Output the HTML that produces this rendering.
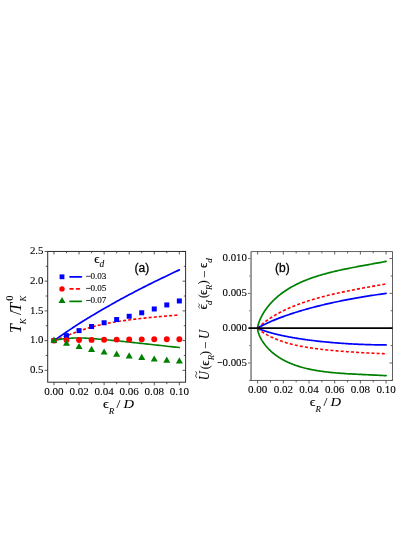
<!DOCTYPE html>
<html><head><meta charset="utf-8"><title>figure</title>
<style>html,body{margin:0;padding:0;background:#fff;}body{width:415px;height:537px;overflow:hidden;font-family:"Liberation Serif",serif;}svg{display:block;position:absolute;left:0;top:0}</style>
</head><body>
<svg width="415" height="537" viewBox="0 0 415 537">
<defs><filter id="soft" x="0" y="0" width="415" height="537" filterUnits="userSpaceOnUse" color-interpolation-filters="sRGB"><feGaussianBlur stdDeviation="0.36"/></filter></defs>
<rect width="415" height="537" fill="#fff"/>
<g filter="url(#soft)">
<rect width="415" height="537" fill="#fff"/>
<polyline points="53.97,340.60 53.98,340.59 54.00,340.57 54.05,340.54 54.11,340.50 54.19,340.44 54.29,340.37 54.40,340.29 54.53,340.20 54.69,340.10 54.85,339.98 55.04,339.85 55.24,339.71 55.46,339.55 55.70,339.39 55.96,339.21 56.23,339.02 56.53,338.81 56.84,338.60 57.16,338.37 57.51,338.13 57.87,337.88 58.25,337.62 58.65,337.34 59.07,337.06 59.50,336.76 59.95,336.45 60.42,336.12 60.91,335.79 61.41,335.44 61.94,335.09 62.48,334.72 63.03,334.34 63.61,333.94 64.20,333.54 64.81,333.13 65.44,332.70 66.09,332.26 66.75,331.81 67.43,331.35 68.13,330.88 68.85,330.40 69.58,329.90 70.34,329.40 71.11,328.88 71.89,328.35 72.70,327.81 73.52,327.26 74.36,326.71 75.22,326.14 76.10,325.56 76.99,324.98 77.91,324.39 78.84,323.79 79.78,323.19 80.75,322.58 81.73,321.96 82.73,321.33 83.75,320.70 84.78,320.06 85.84,319.41 86.91,318.75 88.00,318.09 89.10,317.42 90.23,316.74 91.37,316.06 92.53,315.36 93.71,314.67 94.90,313.96 96.12,313.25 97.35,312.53 98.59,311.81 99.86,311.07 101.14,310.33 102.45,309.58 103.76,308.82 105.10,308.05 106.46,307.27 107.83,306.49 109.22,305.69 110.63,304.88 112.05,304.07 113.49,303.26 114.95,302.44 116.43,301.61 117.93,300.78 119.44,299.95 120.97,299.12 122.52,298.28 124.09,297.44 125.68,296.59 127.28,295.73 128.90,294.87 130.54,294.00 132.19,293.13 133.86,292.25 135.56,291.37 137.26,290.48 138.99,289.58 140.73,288.69 142.50,287.78 144.27,286.88 146.07,285.97 147.89,285.05 149.72,284.13 151.57,283.21 153.44,282.28 155.32,281.36 157.23,280.43 159.15,279.49 161.09,278.56 163.04,277.62 165.02,276.67 167.01,275.71 169.02,274.75 171.05,273.79 173.09,272.82 175.15,271.84 177.23,270.86 179.33,269.87" fill="none" stroke="#0000ff" stroke-width="1.7" stroke-linejoin="round" stroke-linecap="round"/>
<polyline points="53.97,340.60 53.98,340.59 54.00,340.58 54.05,340.57 54.11,340.54 54.19,340.51 54.29,340.48 54.40,340.43 54.53,340.38 54.69,340.33 54.85,340.26 55.04,340.19 55.24,340.11 55.46,340.03 55.70,339.94 55.96,339.84 56.23,339.74 56.53,339.63 56.84,339.51 57.16,339.39 57.51,339.25 57.87,339.12 58.25,338.97 58.65,338.82 59.07,338.66 59.50,338.50 59.95,338.33 60.42,338.15 60.91,337.97 61.41,337.77 61.94,337.58 62.48,337.37 63.03,337.16 63.61,336.94 64.20,336.72 64.81,336.48 65.44,336.25 66.09,336.00 66.75,335.75 67.43,335.49 68.13,335.22 68.85,334.94 69.58,334.66 70.34,334.36 71.11,334.06 71.89,333.76 72.70,333.45 73.52,333.13 74.36,332.81 75.22,332.48 76.10,332.15 76.99,331.82 77.91,331.49 78.84,331.16 79.78,330.83 80.75,330.50 81.73,330.16 82.73,329.82 83.75,329.47 84.78,329.13 85.84,328.78 86.91,328.44 88.00,328.10 89.10,327.76 90.23,327.43 91.37,327.10 92.53,326.79 93.71,326.47 94.90,326.16 96.12,325.85 97.35,325.55 98.59,325.25 99.86,324.95 101.14,324.66 102.45,324.37 103.76,324.09 105.10,323.81 106.46,323.54 107.83,323.27 109.22,323.00 110.63,322.74 112.05,322.48 113.49,322.22 114.95,321.98 116.43,321.73 117.93,321.50 119.44,321.26 120.97,321.04 122.52,320.82 124.09,320.60 125.68,320.38 127.28,320.17 128.90,319.95 130.54,319.74 132.19,319.52 133.86,319.31 135.56,319.10 137.26,318.89 138.99,318.68 140.73,318.48 142.50,318.29 144.27,318.10 146.07,317.91 147.89,317.73 149.72,317.55 151.57,317.38 153.44,317.20 155.32,317.02 157.23,316.84 159.15,316.67 161.09,316.49 163.04,316.32 165.02,316.15 167.01,315.97 169.02,315.81 171.05,315.64 173.09,315.47 175.15,315.31 177.23,315.14 179.33,314.98" fill="none" stroke="#ff0000" stroke-width="1.6" stroke-dasharray="3.05 2.1" stroke-linejoin="round" stroke-linecap="butt"/>
<polyline points="53.97,340.60 53.98,340.60 54.00,340.59 54.05,340.58 54.11,340.57 54.19,340.55 54.29,340.53 54.40,340.50 54.53,340.47 54.69,340.44 54.85,340.40 55.04,340.36 55.24,340.31 55.46,340.27 55.70,340.21 55.96,340.16 56.23,340.10 56.53,340.04 56.84,339.97 57.16,339.91 57.51,339.84 57.87,339.76 58.25,339.69 58.65,339.61 59.07,339.53 59.50,339.45 59.95,339.37 60.42,339.29 60.91,339.21 61.41,339.12 61.94,339.04 62.48,338.96 63.03,338.89 63.61,338.81 64.20,338.74 64.81,338.67 65.44,338.61 66.09,338.55 66.75,338.50 67.43,338.45 68.13,338.40 68.85,338.35 69.58,338.30 70.34,338.25 71.11,338.20 71.89,338.15 72.70,338.11 73.52,338.07 74.36,338.03 75.22,338.00 76.10,337.97 76.99,337.95 77.91,337.93 78.84,337.92 79.78,337.93 80.75,337.94 81.73,337.97 82.73,338.00 83.75,338.04 84.78,338.10 85.84,338.16 86.91,338.22 88.00,338.29 89.10,338.36 90.23,338.43 91.37,338.50 92.53,338.58 93.71,338.66 94.90,338.75 96.12,338.86 97.35,338.96 98.59,339.08 99.86,339.19 101.14,339.31 102.45,339.43 103.76,339.56 105.10,339.68 106.46,339.80 107.83,339.93 109.22,340.06 110.63,340.19 112.05,340.33 113.49,340.47 114.95,340.61 116.43,340.75 117.93,340.90 119.44,341.06 120.97,341.22 122.52,341.38 124.09,341.54 125.68,341.71 127.28,341.88 128.90,342.05 130.54,342.23 132.19,342.41 133.86,342.59 135.56,342.77 137.26,342.96 138.99,343.15 140.73,343.34 142.50,343.53 144.27,343.73 146.07,343.92 147.89,344.12 149.72,344.32 151.57,344.52 153.44,344.73 155.32,344.93 157.23,345.14 159.15,345.35 161.09,345.56 163.04,345.78 165.02,345.99 167.01,346.21 169.02,346.43 171.05,346.65 173.09,346.87 175.15,347.10 177.23,347.32 179.33,347.55" fill="none" stroke="#008000" stroke-width="1.6" stroke-linejoin="round" stroke-linecap="round"/>
<rect x="51.47" y="338.10" width="5.0" height="5.0" fill="#0000ff"/>
<rect x="64.00" y="333.16" width="5.0" height="5.0" fill="#0000ff"/>
<rect x="76.54" y="328.11" width="5.0" height="5.0" fill="#0000ff"/>
<rect x="89.08" y="324.01" width="5.0" height="5.0" fill="#0000ff"/>
<rect x="101.61" y="320.27" width="5.0" height="5.0" fill="#0000ff"/>
<rect x="114.15" y="317.06" width="5.0" height="5.0" fill="#0000ff"/>
<rect x="126.69" y="313.79" width="5.0" height="5.0" fill="#0000ff"/>
<rect x="139.22" y="310.28" width="5.0" height="5.0" fill="#0000ff"/>
<rect x="151.76" y="306.48" width="5.0" height="5.0" fill="#0000ff"/>
<rect x="164.30" y="302.44" width="5.0" height="5.0" fill="#0000ff"/>
<rect x="176.83" y="298.46" width="5.0" height="5.0" fill="#0000ff"/>
<circle cx="53.97" cy="340.60" r="2.95" fill="#ff0000"/>
<circle cx="66.50" cy="340.12" r="2.95" fill="#ff0000"/>
<circle cx="79.04" cy="340.00" r="2.95" fill="#ff0000"/>
<circle cx="91.58" cy="339.88" r="2.95" fill="#ff0000"/>
<circle cx="104.11" cy="339.77" r="2.95" fill="#ff0000"/>
<circle cx="116.65" cy="339.59" r="2.95" fill="#ff0000"/>
<circle cx="129.19" cy="339.41" r="2.95" fill="#ff0000"/>
<circle cx="141.72" cy="339.35" r="2.95" fill="#ff0000"/>
<circle cx="154.26" cy="339.29" r="2.95" fill="#ff0000"/>
<circle cx="166.80" cy="339.29" r="2.95" fill="#ff0000"/>
<circle cx="179.33" cy="339.29" r="2.95" fill="#ff0000"/>
<path d="M53.97 336.51L57.47 342.71L50.47 342.71Z" fill="#008000"/>
<path d="M66.50 339.66L70.00 345.86L63.00 345.86Z" fill="#008000"/>
<path d="M79.04 342.92L82.54 349.12L75.54 349.12Z" fill="#008000"/>
<path d="M91.58 345.72L95.08 351.92L88.08 351.92Z" fill="#008000"/>
<path d="M104.11 348.39L107.61 354.59L100.61 354.59Z" fill="#008000"/>
<path d="M116.65 350.47L120.15 356.67L113.15 356.67Z" fill="#008000"/>
<path d="M129.19 352.37L132.69 358.57L125.69 358.57Z" fill="#008000"/>
<path d="M141.72 353.86L145.22 360.06L138.22 360.06Z" fill="#008000"/>
<path d="M154.26 355.41L157.76 361.61L150.76 361.61Z" fill="#008000"/>
<path d="M166.80 356.47L170.30 362.67L163.30 362.67Z" fill="#008000"/>
<path d="M179.33 357.31L182.83 363.51L175.83 363.51Z" fill="#008000"/>
<rect x="47.70" y="251.45" width="137.90" height="130.75" fill="none" stroke="#2c2c2c" stroke-width="1.0"/>
<path d="M53.97 382.20v3.1M53.97 251.45v3.0M79.04 382.20v3.1M79.04 251.45v3.0M104.11 382.20v3.1M104.11 251.45v3.0M129.19 382.20v3.1M129.19 251.45v3.0M154.26 382.20v3.1M154.26 251.45v3.0M179.33 382.20v3.1M179.33 251.45v3.0M66.50 382.20v2.0M66.50 251.45v1.8M91.58 382.20v2.0M91.58 251.45v1.8M116.65 382.20v2.0M116.65 251.45v1.8M141.72 382.20v2.0M141.72 251.45v1.8M166.80 382.20v2.0M166.80 251.45v1.8M47.70 370.31h-3.1M185.60 370.31h-3.0M47.70 340.60h-3.1M185.60 340.60h-3.0M47.70 310.88h-3.1M185.60 310.88h-3.0M47.70 281.17h-3.1M185.60 281.17h-3.0M47.70 251.45h-3.1M185.60 251.45h-3.0M47.70 355.46h-2.0M185.60 355.46h-1.8M47.70 325.74h-2.0M185.60 325.74h-1.8M47.70 296.02h-2.0M185.60 296.02h-1.8M47.70 266.31h-2.0M185.60 266.31h-1.8" stroke="#2c2c2c" stroke-width="0.8" fill="none"/>
<text transform="translate(53.97,395.40) scale(0.97,1)" text-anchor="middle" font-family="Liberation Serif, serif" font-size="11.4" fill="#000" stroke="#000" stroke-width="0.1">0.00</text>
<text transform="translate(79.04,395.40) scale(0.97,1)" text-anchor="middle" font-family="Liberation Serif, serif" font-size="11.4" fill="#000" stroke="#000" stroke-width="0.1">0.02</text>
<text transform="translate(104.11,395.40) scale(0.97,1)" text-anchor="middle" font-family="Liberation Serif, serif" font-size="11.4" fill="#000" stroke="#000" stroke-width="0.1">0.04</text>
<text transform="translate(129.19,395.40) scale(0.97,1)" text-anchor="middle" font-family="Liberation Serif, serif" font-size="11.4" fill="#000" stroke="#000" stroke-width="0.1">0.06</text>
<text transform="translate(154.26,395.40) scale(0.97,1)" text-anchor="middle" font-family="Liberation Serif, serif" font-size="11.4" fill="#000" stroke="#000" stroke-width="0.1">0.08</text>
<text transform="translate(179.33,395.40) scale(0.97,1)" text-anchor="middle" font-family="Liberation Serif, serif" font-size="11.4" fill="#000" stroke="#000" stroke-width="0.1">0.10</text>
<text transform="translate(43.50,373.01) scale(0.96,1)" text-anchor="end" font-family="Liberation Serif, serif" font-size="11.3" fill="#000" stroke="#000" stroke-width="0.1">0.5</text>
<text transform="translate(43.50,343.30) scale(0.96,1)" text-anchor="end" font-family="Liberation Serif, serif" font-size="11.3" fill="#000" stroke="#000" stroke-width="0.1">1.0</text>
<text transform="translate(43.50,313.58) scale(0.96,1)" text-anchor="end" font-family="Liberation Serif, serif" font-size="11.3" fill="#000" stroke="#000" stroke-width="0.1">1.5</text>
<text transform="translate(43.50,283.87) scale(0.96,1)" text-anchor="end" font-family="Liberation Serif, serif" font-size="11.3" fill="#000" stroke="#000" stroke-width="0.1">2.0</text>
<text transform="translate(43.50,254.15) scale(0.96,1)" text-anchor="end" font-family="Liberation Serif, serif" font-size="11.3" fill="#000" stroke="#000" stroke-width="0.1">2.5</text>
<text x="94.3" y="263.3" font-family="Liberation Serif, serif" font-size="13" fill="#000" stroke="#000" stroke-width="0.2">ϵ<tspan font-style="italic" font-size="9.5" dy="3.2" stroke-width="0.05">d</tspan></text>
<rect x="59.6" y="274.40000000000003" width="4.8" height="4.8" fill="#0000ff"/>
<circle cx="62" cy="288.9" r="2.7" fill="#ff0000"/>
<path d="M62.00 296.91L65.50 303.11L58.50 303.11Z" fill="#008000"/>
<path d="M70.0 276.8H81.4" stroke="#0000ff" stroke-width="1.7" stroke-linecap="round"/>
<path d="M70.1 288.9H80" stroke="#ff0000" stroke-width="1.6" stroke-dasharray="2.9 3.5" stroke-linecap="round"/>
<path d="M70.0 301.3H81.4" stroke="#008000" stroke-width="1.7" stroke-linecap="round"/>
<path d="M86.1 276.30H90.6" stroke="#000" stroke-width="0.75"/>
<text x="90.5" y="279.00" font-family="Liberation Serif, serif" font-size="9.1" fill="#000" stroke="#000" stroke-width="0.1">0.03</text>
<path d="M86.1 288.40H90.6" stroke="#000" stroke-width="0.75"/>
<text x="90.5" y="291.10" font-family="Liberation Serif, serif" font-size="9.1" fill="#000" stroke="#000" stroke-width="0.1">0.05</text>
<path d="M86.1 300.50H90.6" stroke="#000" stroke-width="0.75"/>
<text x="90.5" y="303.20" font-family="Liberation Serif, serif" font-size="9.1" fill="#000" stroke="#000" stroke-width="0.1">0.07</text>
<text x="134.6" y="272.1" font-family="Liberation Sans, sans-serif" font-size="12" fill="#000" stroke="#000" stroke-width="0.3">(a)</text>
<text transform="translate(103.00,408.00) scale(1.06,1)" font-family="Liberation Serif, serif" font-size="13.2" fill="#000" stroke="#000" stroke-width="0.16">ϵ</text>
<text transform="translate(108.70,413.80) scale(1.05,1)" font-family="Liberation Serif, serif" font-size="8.6" font-style="italic" fill="#000" stroke="#000" stroke-width="0.04">R</text>
<text transform="translate(116.60,408.00) scale(1.05,1)" font-family="Liberation Serif, serif" font-size="13.4" fill="#000" stroke="#000" stroke-width="0.04">/</text>
<text transform="translate(123.60,408.00) scale(1.16,1)" font-family="Liberation Serif, serif" font-size="12.6" font-style="italic" fill="#000" stroke="#000" stroke-width="0.04">D</text>
<g transform="translate(21.00,331.90) rotate(-90)"><text transform="translate(-1.00,0.00) scale(1,1.05)" font-family="Liberation Serif, serif" font-size="16" font-style="italic" fill="#000" stroke="#000" stroke-width="0.04">T</text><text x="7.75" y="5.20" font-family="Liberation Serif, serif" font-size="8.6" font-style="italic" fill="#000" stroke="#000" stroke-width="0.04">K</text><text x="17.00" y="0.00" font-family="Liberation Serif, serif" font-size="16" fill="#000" stroke="#000" stroke-width="0.04">/</text><text transform="translate(20.20,0.00) scale(1,1.05)" font-family="Liberation Serif, serif" font-size="16" font-style="italic" fill="#000" stroke="#000" stroke-width="0.04">T</text><text x="30.30" y="5.20" font-family="Liberation Serif, serif" font-size="8.6" font-style="italic" fill="#000" stroke="#000" stroke-width="0.04">K</text><text x="31.40" y="-8.25" font-family="Liberation Serif, serif" font-size="9.5" fill="#000" stroke="#000" stroke-width="0.04">0</text></g>
<polyline points="257.62,328.18 257.63,328.06 257.64,327.87 257.67,327.63 257.70,327.35 257.75,327.05 257.81,326.72 257.87,326.37 257.95,326.00 258.03,325.61 258.13,325.21 258.24,324.79 258.35,324.36 258.48,323.92 258.62,323.47 258.77,323.00 258.92,322.53 259.09,322.05 259.27,321.55 259.46,321.06 259.66,320.55 259.86,320.03 260.08,319.51 260.31,318.99 260.55,318.45 260.80,317.92 261.06,317.38 261.33,316.83 261.61,316.28 261.90,315.72 262.20,315.17 262.51,314.61 262.83,314.04 263.16,313.48 263.50,312.91 263.85,312.34 264.21,311.77 264.58,311.19 264.96,310.62 265.35,310.04 265.75,309.47 266.16,308.89 266.59,308.31 267.02,307.74 267.46,307.16 267.91,306.58 268.37,306.01 268.85,305.43 269.33,304.86 269.82,304.29 270.33,303.71 270.84,303.14 271.36,302.57 271.90,302.01 272.44,301.44 272.99,300.88 273.56,300.32 274.13,299.76 274.72,299.20 275.31,298.65 275.91,298.10 276.53,297.55 277.15,297.00 277.79,296.46 278.43,295.92 279.09,295.38 279.76,294.85 280.43,294.32 281.12,293.79 281.81,293.27 282.52,292.75 283.24,292.24 283.96,291.72 284.70,291.22 285.45,290.71 286.20,290.21 286.97,289.72 287.75,289.23 288.54,288.74 289.33,288.26 290.14,287.78 290.96,287.31 291.79,286.84 292.63,286.37 293.47,285.91 294.33,285.46 295.20,285.00 296.08,284.56 296.97,284.12 297.87,283.68 298.78,283.24 299.70,282.82 300.63,282.39 301.57,281.97 302.52,281.56 303.48,281.15 304.45,280.74 305.43,280.34 306.42,279.95 307.42,279.56 308.43,279.17 309.45,278.79 310.49,278.41 311.53,278.03 312.58,277.67 313.64,277.30 314.71,276.94 315.80,276.59 316.89,276.23 317.99,275.89 319.10,275.54 320.23,275.20 321.36,274.87 322.50,274.54 323.66,274.21 324.82,273.88 325.99,273.56 327.18,273.25 328.37,272.94 329.58,272.63 330.79,272.32 332.01,272.02 333.25,271.72 334.49,271.42 335.75,271.12 337.01,270.83 338.29,270.54 339.58,270.26 340.87,269.97 342.18,269.69 343.49,269.41 344.82,269.13 346.16,268.86 347.50,268.58 348.86,268.31 350.23,268.04 351.60,267.77 352.99,267.50 354.39,267.23 355.79,266.96 357.21,266.69 358.64,266.42 360.08,266.16 361.53,265.89 362.98,265.62 364.45,265.35 365.93,265.08 367.42,264.81 368.92,264.54 370.43,264.27 371.95,263.99 373.48,263.71 375.02,263.43 376.57,263.15 378.13,262.87 379.70,262.58 381.28,262.29 382.87,262.00 384.47,261.70 386.08,261.40" fill="none" stroke="#008000" stroke-width="1.7" stroke-linejoin="round" stroke-linecap="round"/>
<polyline points="257.62,328.18 257.63,328.19 257.64,328.19 257.67,328.17 257.70,328.14 257.75,328.10 257.81,328.05 257.87,327.99 257.95,327.92 258.03,327.83 258.13,327.74 258.24,327.64 258.35,327.52 258.48,327.40 258.62,327.27 258.77,327.13 258.92,326.98 259.09,326.82 259.27,326.65 259.46,326.48 259.66,326.29 259.86,326.10 260.08,325.90 260.31,325.70 260.55,325.49 260.80,325.27 261.06,325.04 261.33,324.81 261.61,324.57 261.90,324.32 262.20,324.07 262.51,323.82 262.83,323.55 263.16,323.29 263.50,323.01 263.85,322.74 264.21,322.45 264.58,322.17 264.96,321.88 265.35,321.58 265.75,321.28 266.16,320.98 266.59,320.67 267.02,320.36 267.46,320.04 267.91,319.73 268.37,319.41 268.85,319.08 269.33,318.76 269.82,318.43 270.33,318.10 270.84,317.76 271.36,317.43 271.90,317.09 272.44,316.75 272.99,316.41 273.56,316.07 274.13,315.72 274.72,315.37 275.31,315.03 275.91,314.68 276.53,314.33 277.15,313.98 277.79,313.63 278.43,313.27 279.09,312.92 279.76,312.57 280.43,312.22 281.12,311.86 281.81,311.51 282.52,311.15 283.24,310.80 283.96,310.44 284.70,310.09 285.45,309.74 286.20,309.38 286.97,309.03 287.75,308.68 288.54,308.33 289.33,307.98 290.14,307.63 290.96,307.28 291.79,306.93 292.63,306.58 293.47,306.23 294.33,305.89 295.20,305.54 296.08,305.20 296.97,304.86 297.87,304.52 298.78,304.18 299.70,303.84 300.63,303.50 301.57,303.16 302.52,302.83 303.48,302.50 304.45,302.17 305.43,301.84 306.42,301.51 307.42,301.18 308.43,300.86 309.45,300.53 310.49,300.21 311.53,299.89 312.58,299.57 313.64,299.26 314.71,298.94 315.80,298.63 316.89,298.32 317.99,298.01 319.10,297.70 320.23,297.39 321.36,297.09 322.50,296.79 323.66,296.49 324.82,296.19 325.99,295.89 327.18,295.59 328.37,295.30 329.58,295.00 330.79,294.71 332.01,294.42 333.25,294.13 334.49,293.84 335.75,293.56 337.01,293.27 338.29,292.99 339.58,292.71 340.87,292.42 342.18,292.14 343.49,291.87 344.82,291.59 346.16,291.31 347.50,291.03 348.86,290.76 350.23,290.48 351.60,290.21 352.99,289.94 354.39,289.66 355.79,289.39 357.21,289.12 358.64,288.85 360.08,288.58 361.53,288.31 362.98,288.04 364.45,287.76 365.93,287.49 367.42,287.22 368.92,286.95 370.43,286.68 371.95,286.41 373.48,286.13 375.02,285.86 376.57,285.58 378.13,285.31 379.70,285.03 381.28,284.75 382.87,284.47 384.47,284.19 386.08,283.91" fill="none" stroke="#ff0000" stroke-width="1.6" stroke-dasharray="3.05 2.1" stroke-linejoin="round" stroke-linecap="butt"/>
<polyline points="257.62,328.18 257.63,328.18 257.64,328.17 257.67,328.15 257.70,328.13 257.75,328.10 257.81,328.06 257.87,328.02 257.95,327.97 258.03,327.92 258.13,327.86 258.24,327.79 258.35,327.72 258.48,327.65 258.62,327.57 258.77,327.48 258.92,327.39 259.09,327.29 259.27,327.19 259.46,327.08 259.66,326.97 259.86,326.86 260.08,326.74 260.31,326.61 260.55,326.48 260.80,326.35 261.06,326.21 261.33,326.06 261.61,325.92 261.90,325.76 262.20,325.61 262.51,325.45 262.83,325.29 263.16,325.12 263.50,324.95 263.85,324.77 264.21,324.59 264.58,324.41 264.96,324.23 265.35,324.04 265.75,323.85 266.16,323.65 266.59,323.45 267.02,323.25 267.46,323.05 267.91,322.84 268.37,322.63 268.85,322.41 269.33,322.20 269.82,321.98 270.33,321.76 270.84,321.53 271.36,321.30 271.90,321.07 272.44,320.84 272.99,320.61 273.56,320.37 274.13,320.13 274.72,319.89 275.31,319.65 275.91,319.41 276.53,319.16 277.15,318.91 277.79,318.66 278.43,318.41 279.09,318.15 279.76,317.90 280.43,317.64 281.12,317.38 281.81,317.12 282.52,316.86 283.24,316.60 283.96,316.33 284.70,316.07 285.45,315.80 286.20,315.53 286.97,315.27 287.75,315.00 288.54,314.72 289.33,314.45 290.14,314.18 290.96,313.91 291.79,313.63 292.63,313.36 293.47,313.08 294.33,312.80 295.20,312.53 296.08,312.25 296.97,311.97 297.87,311.69 298.78,311.41 299.70,311.13 300.63,310.86 301.57,310.58 302.52,310.30 303.48,310.02 304.45,309.74 305.43,309.45 306.42,309.17 307.42,308.89 308.43,308.61 309.45,308.33 310.49,308.05 311.53,307.77 312.58,307.49 313.64,307.21 314.71,306.94 315.80,306.66 316.89,306.38 317.99,306.10 319.10,305.82 320.23,305.55 321.36,305.27 322.50,304.99 323.66,304.72 324.82,304.44 325.99,304.17 327.18,303.89 328.37,303.62 329.58,303.35 330.79,303.08 332.01,302.81 333.25,302.54 334.49,302.27 335.75,302.00 337.01,301.74 338.29,301.47 339.58,301.21 340.87,300.94 342.18,300.68 343.49,300.42 344.82,300.16 346.16,299.90 347.50,299.64 348.86,299.38 350.23,299.13 351.60,298.87 352.99,298.62 354.39,298.37 355.79,298.12 357.21,297.87 358.64,297.62 360.08,297.37 361.53,297.13 362.98,296.89 364.45,296.64 365.93,296.40 367.42,296.16 368.92,295.93 370.43,295.69 371.95,295.46 373.48,295.22 375.02,294.99 376.57,294.76 378.13,294.53 379.70,294.31 381.28,294.08 382.87,293.86 384.47,293.64 386.08,293.42" fill="none" stroke="#0000ff" stroke-width="1.7" stroke-linejoin="round" stroke-linecap="round"/>
<polyline points="257.62,328.18 257.63,328.19 257.64,328.20 257.67,328.22 257.70,328.24 257.75,328.26 257.81,328.29 257.87,328.33 257.95,328.37 258.03,328.41 258.13,328.46 258.24,328.51 258.35,328.57 258.48,328.62 258.62,328.69 258.77,328.75 258.92,328.82 259.09,328.89 259.27,328.97 259.46,329.05 259.66,329.13 259.86,329.21 260.08,329.30 260.31,329.39 260.55,329.48 260.80,329.58 261.06,329.68 261.33,329.78 261.61,329.88 261.90,329.99 262.20,330.09 262.51,330.21 262.83,330.32 263.16,330.43 263.50,330.55 263.85,330.67 264.21,330.79 264.58,330.91 264.96,331.04 265.35,331.16 265.75,331.29 266.16,331.42 266.59,331.55 267.02,331.68 267.46,331.82 267.91,331.95 268.37,332.09 268.85,332.23 269.33,332.37 269.82,332.51 270.33,332.65 270.84,332.79 271.36,332.94 271.90,333.08 272.44,333.22 272.99,333.37 273.56,333.52 274.13,333.67 274.72,333.81 275.31,333.96 275.91,334.11 276.53,334.26 277.15,334.41 277.79,334.56 278.43,334.71 279.09,334.86 279.76,335.02 280.43,335.17 281.12,335.32 281.81,335.47 282.52,335.62 283.24,335.77 283.96,335.93 284.70,336.08 285.45,336.23 286.20,336.38 286.97,336.53 287.75,336.68 288.54,336.83 289.33,336.98 290.14,337.13 290.96,337.28 291.79,337.43 292.63,337.58 293.47,337.73 294.33,337.87 295.20,338.02 296.08,338.17 296.97,338.31 297.87,338.46 298.78,338.60 299.70,338.75 300.63,338.89 301.57,339.03 302.52,339.17 303.48,339.31 304.45,339.45 305.43,339.59 306.42,339.72 307.42,339.86 308.43,340.00 309.45,340.13 310.49,340.26 311.53,340.39 312.58,340.53 313.64,340.66 314.71,340.78 315.80,340.91 316.89,341.04 317.99,341.16 319.10,341.28 320.23,341.41 321.36,341.53 322.50,341.65 323.66,341.77 324.82,341.88 325.99,342.00 327.18,342.11 328.37,342.22 329.58,342.33 330.79,342.44 332.01,342.55 333.25,342.65 334.49,342.76 335.75,342.86 337.01,342.96 338.29,343.06 339.58,343.16 340.87,343.25 342.18,343.34 343.49,343.43 344.82,343.52 346.16,343.61 347.50,343.69 348.86,343.78 350.23,343.86 351.60,343.93 352.99,344.01 354.39,344.08 355.79,344.15 357.21,344.22 358.64,344.29 360.08,344.35 361.53,344.41 362.98,344.46 364.45,344.52 365.93,344.57 367.42,344.62 368.92,344.66 370.43,344.70 371.95,344.74 373.48,344.77 375.02,344.80 376.57,344.83 378.13,344.85 379.70,344.87 381.28,344.88 382.87,344.89 384.47,344.89 386.08,344.89" fill="none" stroke="#0000ff" stroke-width="1.7" stroke-linejoin="round" stroke-linecap="round"/>
<polyline points="257.62,328.18 257.63,328.19 257.64,328.21 257.67,328.25 257.70,328.29 257.75,328.34 257.81,328.40 257.87,328.47 257.95,328.55 258.03,328.64 258.13,328.73 258.24,328.83 258.35,328.94 258.48,329.06 258.62,329.18 258.77,329.31 258.92,329.45 259.09,329.59 259.27,329.74 259.46,329.89 259.66,330.05 259.86,330.22 260.08,330.39 260.31,330.56 260.55,330.74 260.80,330.93 261.06,331.12 261.33,331.31 261.61,331.51 261.90,331.71 262.20,331.92 262.51,332.13 262.83,332.34 263.16,332.56 263.50,332.78 263.85,333.00 264.21,333.23 264.58,333.45 264.96,333.69 265.35,333.92 265.75,334.15 266.16,334.39 266.59,334.63 267.02,334.87 267.46,335.12 267.91,335.36 268.37,335.61 268.85,335.85 269.33,336.10 269.82,336.35 270.33,336.60 270.84,336.85 271.36,337.10 271.90,337.35 272.44,337.60 272.99,337.85 273.56,338.10 274.13,338.35 274.72,338.60 275.31,338.85 275.91,339.10 276.53,339.35 277.15,339.59 277.79,339.84 278.43,340.09 279.09,340.33 279.76,340.57 280.43,340.81 281.12,341.05 281.81,341.29 282.52,341.53 283.24,341.76 283.96,341.99 284.70,342.23 285.45,342.45 286.20,342.68 286.97,342.91 287.75,343.13 288.54,343.35 289.33,343.57 290.14,343.78 290.96,344.00 291.79,344.21 292.63,344.42 293.47,344.62 294.33,344.82 295.20,345.03 296.08,345.22 296.97,345.42 297.87,345.61 298.78,345.80 299.70,345.99 300.63,346.17 301.57,346.36 302.52,346.54 303.48,346.71 304.45,346.89 305.43,347.06 306.42,347.23 307.42,347.39 308.43,347.56 309.45,347.72 310.49,347.87 311.53,348.03 312.58,348.18 313.64,348.33 314.71,348.48 315.80,348.63 316.89,348.77 317.99,348.91 319.10,349.05 320.23,349.18 321.36,349.32 322.50,349.45 323.66,349.58 324.82,349.71 325.99,349.83 327.18,349.96 328.37,350.08 329.58,350.20 330.79,350.31 332.01,350.43 333.25,350.54 334.49,350.66 335.75,350.77 337.01,350.88 338.29,350.98 339.58,351.09 340.87,351.19 342.18,351.30 343.49,351.40 344.82,351.50 346.16,351.60 347.50,351.69 348.86,351.79 350.23,351.89 351.60,351.98 352.99,352.07 354.39,352.16 355.79,352.25 357.21,352.34 358.64,352.43 360.08,352.52 361.53,352.60 362.98,352.69 364.45,352.77 365.93,352.85 367.42,352.93 368.92,353.01 370.43,353.08 371.95,353.16 373.48,353.23 375.02,353.30 376.57,353.37 378.13,353.44 379.70,353.50 381.28,353.57 382.87,353.63 384.47,353.68 386.08,353.74" fill="none" stroke="#ff0000" stroke-width="1.6" stroke-dasharray="3.05 2.1" stroke-linejoin="round" stroke-linecap="butt"/>
<polyline points="257.62,328.18 257.63,328.50 257.64,328.82 257.67,329.16 257.70,329.50 257.75,329.86 257.81,330.22 257.87,330.59 257.95,330.97 258.03,331.36 258.13,331.76 258.24,332.16 258.35,332.58 258.48,332.99 258.62,333.42 258.77,333.85 258.92,334.29 259.09,334.73 259.27,335.18 259.46,335.63 259.66,336.09 259.86,336.55 260.08,337.01 260.31,337.48 260.55,337.96 260.80,338.43 261.06,338.91 261.33,339.39 261.61,339.88 261.90,340.37 262.20,340.85 262.51,341.34 262.83,341.84 263.16,342.33 263.50,342.82 263.85,343.32 264.21,343.81 264.58,344.30 264.96,344.80 265.35,345.29 265.75,345.79 266.16,346.28 266.59,346.77 267.02,347.27 267.46,347.76 267.91,348.24 268.37,348.73 268.85,349.22 269.33,349.70 269.82,350.18 270.33,350.66 270.84,351.14 271.36,351.61 271.90,352.08 272.44,352.55 272.99,353.01 273.56,353.47 274.13,353.93 274.72,354.39 275.31,354.84 275.91,355.28 276.53,355.73 277.15,356.16 277.79,356.60 278.43,357.03 279.09,357.45 279.76,357.87 280.43,358.29 281.12,358.70 281.81,359.11 282.52,359.51 283.24,359.90 283.96,360.29 284.70,360.68 285.45,361.06 286.20,361.44 286.97,361.81 287.75,362.17 288.54,362.53 289.33,362.88 290.14,363.23 290.96,363.57 291.79,363.91 292.63,364.24 293.47,364.56 294.33,364.88 295.20,365.19 296.08,365.50 296.97,365.80 297.87,366.09 298.78,366.38 299.70,366.67 300.63,366.94 301.57,367.21 302.52,367.48 303.48,367.74 304.45,367.99 305.43,368.24 306.42,368.48 307.42,368.72 308.43,368.95 309.45,369.17 310.49,369.39 311.53,369.60 312.58,369.81 313.64,370.01 314.71,370.20 315.80,370.40 316.89,370.58 317.99,370.76 319.10,370.93 320.23,371.10 321.36,371.27 322.50,371.43 323.66,371.58 324.82,371.73 325.99,371.88 327.18,372.02 328.37,372.15 329.58,372.28 330.79,372.41 332.01,372.53 333.25,372.65 334.49,372.77 335.75,372.88 337.01,372.98 338.29,373.09 339.58,373.19 340.87,373.28 342.18,373.38 343.49,373.47 344.82,373.56 346.16,373.64 347.50,373.73 348.86,373.81 350.23,373.89 351.60,373.97 352.99,374.04 354.39,374.11 355.79,374.19 357.21,374.26 358.64,374.33 360.08,374.40 361.53,374.47 362.98,374.54 364.45,374.61 365.93,374.68 367.42,374.75 368.92,374.82 370.43,374.89 371.95,374.96 373.48,375.03 375.02,375.11 376.57,375.18 378.13,375.26 379.70,375.34 381.28,375.43 382.87,375.51 384.47,375.60 386.08,375.70" fill="none" stroke="#008000" stroke-width="1.7" stroke-linejoin="round" stroke-linecap="round"/>
<rect x="251.20" y="251.60" width="141.30" height="128.80" fill="none" stroke="#505050" stroke-width="0.9"/>
<path d="M257.62 380.40v3.1M257.62 251.60v3.0M283.31 380.40v3.1M283.31 251.60v3.0M309.00 380.40v3.1M309.00 251.60v3.0M334.70 380.40v3.1M334.70 251.60v3.0M360.39 380.40v3.1M360.39 251.60v3.0M386.08 380.40v3.1M386.08 251.60v3.0M270.47 380.40v2.0M270.47 251.60v1.8M296.16 380.40v2.0M296.16 251.60v1.8M321.85 380.40v2.0M321.85 251.60v1.8M347.54 380.40v2.0M347.54 251.60v1.8M373.23 380.40v2.0M373.23 251.60v1.8M251.20 362.99h-3.1M392.50 362.99h-3.0M251.20 328.18h-3.1M392.50 328.18h-3.0M251.20 293.37h-3.1M392.50 293.37h-3.0M251.20 258.56h-3.1M392.50 258.56h-3.0M251.20 380.40h-2.0M392.50 380.40h-1.8M251.20 345.59h-2.0M392.50 345.59h-1.8M251.20 310.78h-2.0M392.50 310.78h-1.8M251.20 275.97h-2.0M392.50 275.97h-1.8" stroke="#3c3c3c" stroke-width="0.8" fill="none"/>
<path d="M251.0 252.10V379.90" stroke="#9a9a9a" stroke-width="1.7"/>
<path d="M248.60 328.18H392.50" stroke="#000" stroke-width="1.85"/>
<text transform="translate(257.62,393.30) scale(0.97,1)" text-anchor="middle" font-family="Liberation Serif, serif" font-size="11.4" fill="#000" stroke="#000" stroke-width="0.1">0.00</text>
<text transform="translate(283.31,393.30) scale(0.97,1)" text-anchor="middle" font-family="Liberation Serif, serif" font-size="11.4" fill="#000" stroke="#000" stroke-width="0.1">0.02</text>
<text transform="translate(309.00,393.30) scale(0.97,1)" text-anchor="middle" font-family="Liberation Serif, serif" font-size="11.4" fill="#000" stroke="#000" stroke-width="0.1">0.04</text>
<text transform="translate(334.70,393.30) scale(0.97,1)" text-anchor="middle" font-family="Liberation Serif, serif" font-size="11.4" fill="#000" stroke="#000" stroke-width="0.1">0.06</text>
<text transform="translate(360.39,393.30) scale(0.97,1)" text-anchor="middle" font-family="Liberation Serif, serif" font-size="11.4" fill="#000" stroke="#000" stroke-width="0.1">0.08</text>
<text transform="translate(386.08,393.30) scale(0.97,1)" text-anchor="middle" font-family="Liberation Serif, serif" font-size="11.4" fill="#000" stroke="#000" stroke-width="0.1">0.10</text>
<path d="M217.59 362.49H222.09" stroke="#000" stroke-width="0.8"/>
<text transform="translate(246.90,365.69) scale(0.96,1)" text-anchor="end" font-family="Liberation Serif, serif" font-size="11.3" fill="#000" stroke="#000" stroke-width="0.1">0.005</text>
<text transform="translate(246.90,330.88) scale(0.96,1)" text-anchor="end" font-family="Liberation Serif, serif" font-size="11.3" fill="#000" stroke="#000" stroke-width="0.1">0.000</text>
<text transform="translate(246.90,296.07) scale(0.96,1)" text-anchor="end" font-family="Liberation Serif, serif" font-size="11.3" fill="#000" stroke="#000" stroke-width="0.1">0.005</text>
<text transform="translate(246.90,261.26) scale(0.96,1)" text-anchor="end" font-family="Liberation Serif, serif" font-size="11.3" fill="#000" stroke="#000" stroke-width="0.1">0.010</text>
<text x="275" y="272.1" font-family="Liberation Sans, sans-serif" font-size="12" fill="#000" stroke="#000" stroke-width="0.3">(b)</text>
<text transform="translate(309.80,406.00) scale(1.06,1)" font-family="Liberation Serif, serif" font-size="13.2" fill="#000" stroke="#000" stroke-width="0.16">ϵ</text>
<text transform="translate(315.50,411.80) scale(1.05,1)" font-family="Liberation Serif, serif" font-size="8.6" font-style="italic" fill="#000" stroke="#000" stroke-width="0.04">R</text>
<text transform="translate(323.40,406.00) scale(1.05,1)" font-family="Liberation Serif, serif" font-size="13.4" fill="#000" stroke="#000" stroke-width="0.04">/</text>
<text transform="translate(330.40,406.00) scale(1.16,1)" font-family="Liberation Serif, serif" font-size="12.6" font-style="italic" fill="#000" stroke="#000" stroke-width="0.04">D</text>
<g transform="translate(208.50,379.15) rotate(-90)"><text transform="translate(-1.15,0.00) scale(1,1.12)" font-family="Liberation Serif, serif" font-size="12.6" font-style="italic" fill="#000" stroke="#000" stroke-width="0.04">U</text><path d="M1.60 -12.02C2.68 -13.17 3.76 -13.06 4.60 -12.35S6.52 -11.53 7.60 -12.68" fill="none" stroke="#000" stroke-width="0.75" stroke-linecap="round"/><text x="9.85" y="0.00" font-family="Liberation Serif, serif" font-size="11.8" fill="#000" stroke="#000" stroke-width="0.04">(</text><text x="13.50" y="0.00" font-family="Liberation Serif, serif" font-size="12.8" fill="#000" stroke="#000" stroke-width="0.16">ϵ</text><text x="18.80" y="5.10" font-family="Liberation Serif, serif" font-size="8.6" font-style="italic" fill="#000" stroke="#000" stroke-width="0.04">R</text><text x="24.20" y="0.00" font-family="Liberation Serif, serif" font-size="11.8" fill="#000" stroke="#000" stroke-width="0.04">)</text><text x="30.90" y="-0.50" font-family="Liberation Serif, serif" font-size="12.5" fill="#000" stroke="#000" stroke-width="0.04">–</text><text transform="translate(40.15,0.00) scale(1,1.12)" font-family="Liberation Serif, serif" font-size="12.6" font-style="italic" fill="#000" stroke="#000" stroke-width="0.04">U</text></g>
<g transform="translate(207.10,309.10) rotate(-90)"><text x="-0.50" y="0.00" font-family="Liberation Serif, serif" font-size="12.8" fill="#000" stroke="#000" stroke-width="0.16">ϵ</text><path d="M1.20 -7.78C1.92 -8.73 2.64 -8.64 3.20 -8.05S4.48 -7.38 5.20 -8.32" fill="none" stroke="#000" stroke-width="0.75" stroke-linecap="round"/><text x="4.10" y="5.10" font-family="Liberation Serif, serif" font-size="8.8" font-style="italic" fill="#000" stroke="#000" stroke-width="0.04">d</text><text x="11.10" y="0.00" font-family="Liberation Serif, serif" font-size="11.8" fill="#000" stroke="#000" stroke-width="0.04">(</text><text x="14.00" y="0.00" font-family="Liberation Serif, serif" font-size="12.8" fill="#000" stroke="#000" stroke-width="0.16">ϵ</text><text x="19.20" y="5.10" font-family="Liberation Serif, serif" font-size="8.6" font-style="italic" fill="#000" stroke="#000" stroke-width="0.04">R</text><text x="24.90" y="0.00" font-family="Liberation Serif, serif" font-size="11.8" fill="#000" stroke="#000" stroke-width="0.04">)</text><text x="31.80" y="-0.40" font-family="Liberation Serif, serif" font-size="12.5" fill="#000" stroke="#000" stroke-width="0.04">–</text><text x="41.20" y="0.00" font-family="Liberation Serif, serif" font-size="12.8" fill="#000" stroke="#000" stroke-width="0.16">ϵ</text><text x="46.45" y="5.10" font-family="Liberation Serif, serif" font-size="8.8" font-style="italic" fill="#000" stroke="#000" stroke-width="0.04">d</text></g>
</g>
</svg>
</body></html>
